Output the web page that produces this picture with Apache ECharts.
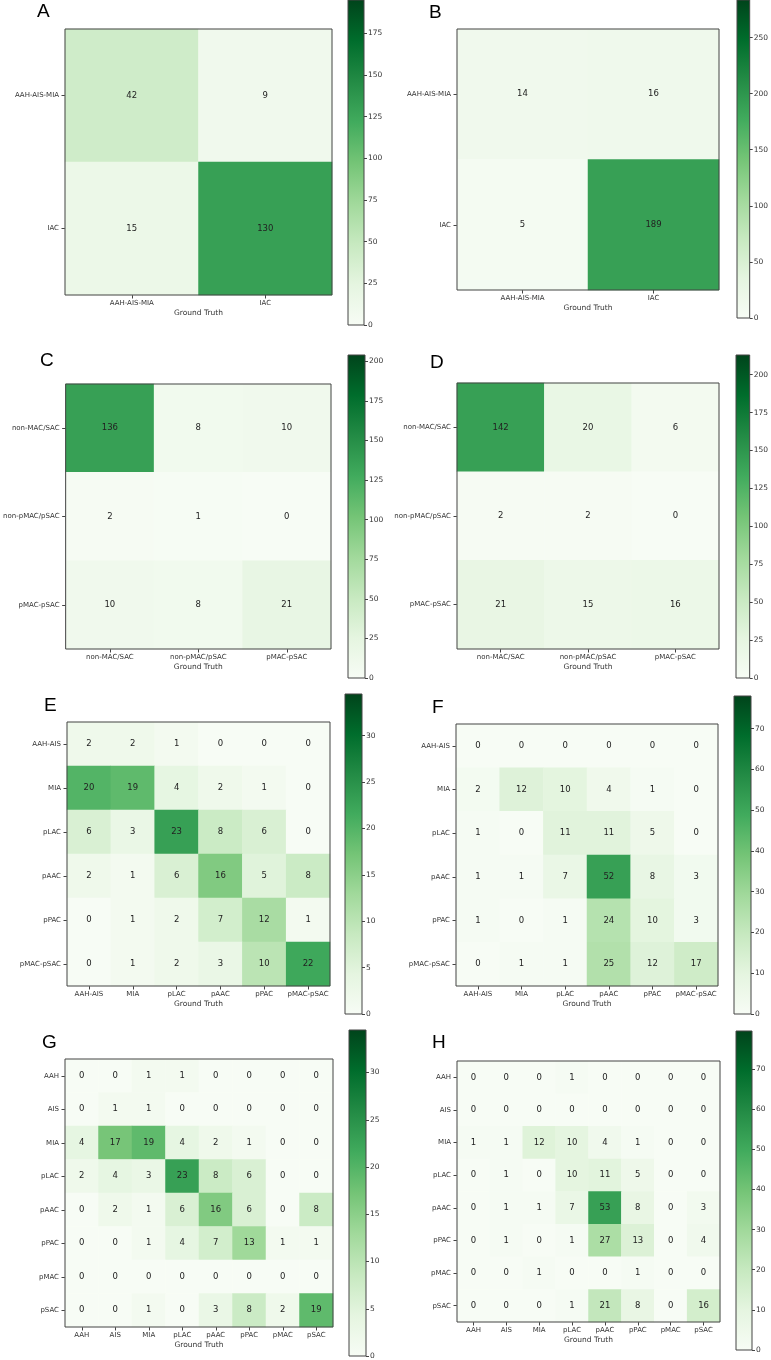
<!DOCTYPE html>
<html><head><meta charset="utf-8">
<script src="https://cdn.jsdelivr.net/npm/echarts@6/dist/echarts.min.js"></script>
<style>html,body{margin:0;padding:0;background:#fff}#c{width:771px;height:1360px}</style>
</head><body><div id="c"></div>
<script>
// ---- data ----
const panelLetters = ['A','B','C','D','E','F','G','H'];
const catsAB = ['AAH-AIS-MIA','IAC'];
const catsCD = ['non-MAC/SAC','non-pMAC/pSAC','pMAC-pSAC'];
const catsEF = ['AAH-AIS','MIA','pLAC','pAAC','pPAC','pMAC-pSAC'];
const catsGH = ['AAH','AIS','MIA','pLAC','pAAC','pPAC','pMAC','pSAC'];
const valuesA = [[42,9],[15,130]];
const valuesB = [[14,16],[5,189]];
const valuesC = [[136,8,10],[2,1,0],[10,8,21]];
const valuesD = [[142,20,6],[2,2,0],[21,15,16]];
const valuesE = [[2,2,1,0,0,0],[20,19,4,2,1,0],[6,3,23,8,6,0],[2,1,6,16,5,8],[0,1,2,7,12,1],[0,1,2,3,10,22]];
const valuesF = [[0,0,0,0,0,0],[2,12,10,4,1,0],[1,0,11,11,5,0],[1,1,7,52,8,3],[1,0,1,24,10,3],[0,1,1,25,12,17]];
const valuesG = [[0,0,1,1,0,0,0,0],[0,1,1,0,0,0,0,0],[4,17,19,4,2,1,0,0],[2,4,3,23,8,6,0,0],[0,2,1,6,16,6,0,8],[0,0,1,4,7,13,1,1],[0,0,0,0,0,0,0,0],[0,0,1,0,3,8,2,19]];
const valuesH = [[0,0,0,1,0,0,0,0],[0,0,0,0,0,0,0,0],[1,1,12,10,4,1,0,0],[0,1,0,10,11,5,0,0],[0,1,1,7,53,8,0,3],[0,1,0,1,27,13,0,4],[0,0,1,0,0,1,0,0],[0,0,0,1,21,8,0,16]];
const cbarMax = [195, 283.5, 204, 213, 34.5, 78, 34.5, 79.5];
const cbarStep = [25, 50, 25, 25, 5, 10, 5, 10];
const xTitle = 'Ground Truth';

// ---- layout ----
const panelCats = [catsAB, catsAB, catsCD, catsCD, catsEF, catsEF, catsGH, catsGH];
const panelValues = [valuesA, valuesB, valuesC, valuesD, valuesE, valuesF, valuesG, valuesH];
const gridBox = [[65,29,267,266],[457,29,262,261],[65,384,266,265],[457,383,262,266],[67,722,263,264],[456,724,262,262],[65,1059,268,268],[457,1061,263,261]];
const cbarBox = [[348,0,16,325],[737,0,15,318],[348,355,17,323],[736,355,16,323],[345,694,17,320],[734,696,17,318],[349,1030,17,327],[736,1031,16,319]];
const letterPos = [[37,2],[429,3],[40,351],[430,353],[44,696],[432,698],[42,1033],[432,1033]];
const greens = ['#f7fcf5','#e5f5e0','#c7e9c0','#a1d99b','#74c476','#41ab5d','#238b45','#006d2c','#00441b'];
const FONT = 'DejaVu Sans';

const chart = echarts.init(document.getElementById('c'));
const option = {animation:false, backgroundColor:'#fff', title:[], grid:[], xAxis:[], yAxis:[], series:[], visualMap:[]};

for (let i = 0; i < 8; i++) {
  const cats = panelCats[i], vals = panelValues[i];
  const g = gridBox[i], cb = cbarBox[i];
  option.title.push({text: panelLetters[i], left: letterPos[i][0], top: letterPos[i][1], padding: 0,
    textStyle:{fontFamily:'Liberation Sans', fontSize:19, fontWeight:'normal', color:'#000'}});
  // heatmap grid
  option.grid.push({left:g[0], top:g[1], width:g[2], height:g[3], show:true, z:5,
    backgroundColor:'transparent', borderColor:'#444', borderWidth:1});
  // colorbar grid
  option.grid.push({left:cb[0], top:cb[1], width:cb[2], height:cb[3], show:true, z:5,
    backgroundColor:'transparent', borderColor:'#444', borderWidth:1});
  const gi = 2*i, ci = 2*i+1;
  option.xAxis.push({type:'category', gridIndex:gi, data:cats, position:'bottom',
    name:xTitle, nameLocation:'middle', nameGap:14,
    nameTextStyle:{fontFamily:FONT, fontSize:7.5, color:'#333'},
    axisLine:{show:false}, splitLine:{show:false},
    axisTick:{show:true, alignWithLabel:true, length:3.5, lineStyle:{color:'#444'}},
    axisLabel:{fontFamily:FONT, fontSize:7, color:'#333', margin:5, interval:0}});
  option.xAxis.push({type:'category', gridIndex:ci, data:[''], show:false});
  option.yAxis.push({type:'category', gridIndex:gi, data:cats, inverse:true,
    axisLine:{show:false}, splitLine:{show:false},
    axisTick:{show:true, alignWithLabel:true, length:3.5, lineStyle:{color:'#444'}},
    axisLabel:{fontFamily:FONT, fontSize:7, color:'#333', margin:6, interval:0}});
  option.yAxis.push({type:'value', gridIndex:ci, position:'right', min:0, max:cbarMax[i], interval:cbarStep[i],
    axisLine:{show:false}, splitLine:{show:false},
    axisTick:{show:true, length:3, lineStyle:{color:'#444'}},
    axisLabel:{fontFamily:FONT, fontSize:7.5, color:'#333', margin:4, showMaxLabel:false}});
  const data = [];
  vals.forEach((row, r) => row.forEach((v, c) => data.push([c, r, v])));
  const si = option.series.length;
  option.series.push({type:'heatmap', xAxisIndex:gi, yAxisIndex:gi, data:data,
    label:{show:true, fontFamily:FONT, fontSize:8.5, color:'#222'},
    emphasis:{disabled:true}, silent:true});
  option.visualMap.push({type:'continuous', show:false, seriesIndex:si, min:0, max:cbarMax[i], inRange:{color:greens}});
  option.series.push({type:'bar', xAxisIndex:ci, yAxisIndex:ci, data:[cbarMax[i]], barWidth:'100%', silent:true,
    itemStyle:{color:new echarts.graphic.LinearGradient(0,0,0,1,
      greens.slice().reverse().map((c, k) => ({offset:k/(greens.length-1), color:c})))}});
}
chart.setOption(option);
</script></body></html>
